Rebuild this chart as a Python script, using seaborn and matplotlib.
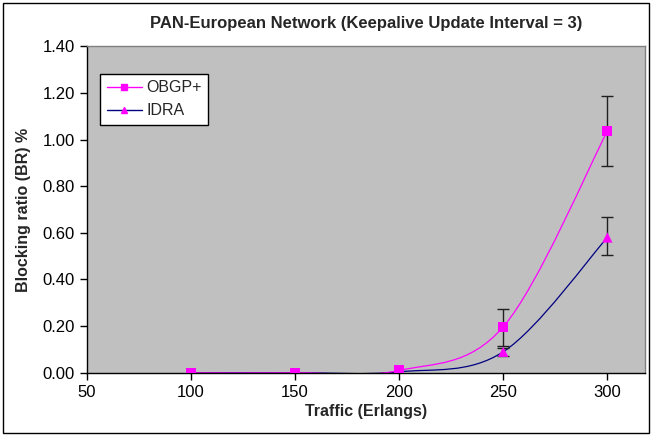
import numpy as np
import pandas as pd
import matplotlib
matplotlib.use('Agg')
import matplotlib.pyplot as plt
from matplotlib.path import Path
from matplotlib.patches import PathPatch, Rectangle
from matplotlib.lines import Line2D
import seaborn as sns

# datos
trafico = [100, 150, 200, 250, 300]
obgp = [0.0, 0.0, 0.01, 0.197, 1.036]
obgp_err_bajo = [0.0, 0.0, 0.0, 0.081, 0.15]
obgp_err_alto = [0.0, 0.0, 0.0, 0.077, 0.15]
idra = [0.0, 0.0, 0.004, 0.09, 0.58]
idra_err_bajo = [0.0, 0.0, 0.0, 0.018, 0.075]
idra_err_alto = [0.0, 0.0, 0.0, 0.015, 0.088]
y_ticks = [0.0, 0.2, 0.4, 0.6, 0.8, 1.0, 1.2, 1.4]
x_ticks = [50, 100, 150, 200, 250, 300]

sns.set_style('ticks')
plt.rcParams['font.family'] = ['Liberation Sans', 'DejaVu Sans']

df = pd.DataFrame({'trafico': trafico * 2,
                   'br': obgp + idra,
                   'serie': ['OBGP+'] * 5 + ['IDRA'] * 5})


def curva_suave(xs, ys):
    # linea suavizada tipo Excel (bezier cubica por tramos)
    xs = np.asarray(xs, float)
    ys = np.asarray(ys, float)
    pts = np.column_stack([xs, ys])
    verts = [pts[0]]
    codes = [Path.MOVETO]
    n = len(pts)
    for i in range(n - 1):
        p0 = pts[i - 1] if i > 0 else pts[i]
        p1 = pts[i]
        p2 = pts[i + 1]
        p3 = pts[i + 2] if i + 2 < n else pts[i + 1]
        c1 = p1 + (p2 - p0) / 6.0
        c2 = p2 - (p3 - p1) / 6.0
        verts += [c1, c2, p2]
        codes += [Path.CURVE4] * 3
    return Path(verts, codes)


fig = plt.figure(figsize=(6.52, 4.36), dpi=100)
ax = fig.add_axes([0.133, 0.145, 0.856, 0.749])
ax.set_facecolor('#c0c0c0')

ax.add_patch(PathPatch(curva_suave(trafico, idra), facecolor='none',
                       edgecolor='#000080', lw=0.9, zorder=2))
ax.add_patch(PathPatch(curva_suave(trafico, obgp), facecolor='none',
                       edgecolor='#ff00ff', lw=0.9, zorder=2))

ax.errorbar(trafico[3:], obgp[3:], yerr=[obgp_err_bajo[3:], obgp_err_alto[3:]],
            fmt='none', ecolor='#202020', elinewidth=1, capsize=4, capthick=1, zorder=3)
ax.errorbar(trafico[3:], idra[3:], yerr=[idra_err_bajo[3:], idra_err_alto[3:]],
            fmt='none', ecolor='#202020', elinewidth=1, capsize=4, capthick=1, zorder=3)

sns.scatterplot(data=df, x='trafico', y='br', style='serie',
                markers={'OBGP+': 's', 'IDRA': '^'}, color='#ff00ff',
                s=55, linewidth=0, legend=False, ax=ax, zorder=4)

ax.set_xlim(50, 318)
ax.set_ylim(0, 1.4)
ax.set_xticks(x_ticks)
ax.set_yticks(y_ticks)
ax.set_yticklabels([f'{v:.2f}' for v in y_ticks])
ax.tick_params(direction='out', length=5, width=1, labelsize=12, colors='black')
for lado in ['top', 'right']:
    ax.spines[lado].set_color('#808080')
    ax.spines[lado].set_linewidth(1)
for lado in ['left', 'bottom']:
    ax.spines[lado].set_color('black')
    ax.spines[lado].set_linewidth(1)

ax.set_title('PAN-European Network (Keepalive Update Interval = 3)',
             fontsize=12, fontweight='bold', pad=13)
ax.set_xlabel('Traffic (Erlangs)', fontsize=11.5, fontweight='bold', labelpad=3)
ax.set_ylabel('Blocking ratio (BR) %', fontsize=11.5, fontweight='bold', labelpad=8)

manijas = [Line2D([], [], color='#ff00ff', marker='s', markersize=5, lw=1),
           Line2D([], [], color='#000080', marker='^', markersize=5, lw=1,
                  markerfacecolor='#ff00ff', markeredgecolor='#ff00ff')]
leg = ax.legend(manijas, ['OBGP+', 'IDRA'], loc='upper left',
                bbox_to_anchor=(0.01, 0.94), fontsize=11.5, fancybox=False,
                framealpha=1, edgecolor='black', handlelength=2.2,
                handletextpad=0.3, borderpad=0.4, labelspacing=0.5)
leg.get_frame().set_linewidth(1)

fig.patches.append(Rectangle((0.005, 0.007), 0.99, 0.986, transform=fig.transFigure,
                             fill=False, edgecolor='black', lw=1))

fig.savefig('out.png', dpi=100)
